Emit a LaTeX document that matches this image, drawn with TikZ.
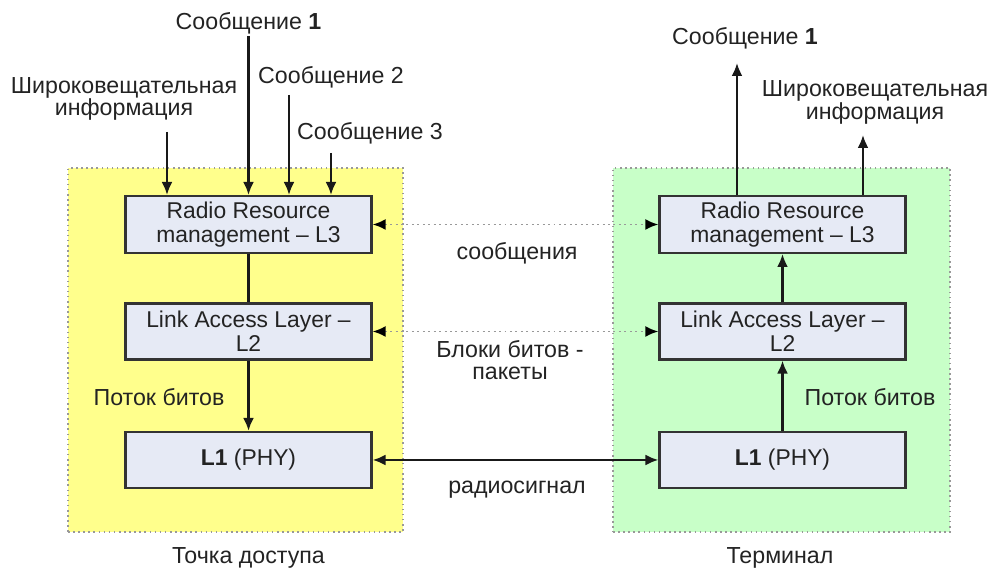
\documentclass[tikz,border=0pt]{standalone}
\usepackage{fontspec}
\setmainfont{Liberation Sans}
\usetikzlibrary{arrows.meta, positioning}
\usepackage{xcolor}
\definecolor{apfill}{RGB}{255,255,140}
\definecolor{termfill}{RGB}{200,255,200}
\definecolor{layerfill}{RGB}{230,234,245}
\definecolor{txt}{RGB}{35,35,35}

\begin{document}
\begin{tikzpicture}[
  area/.style={draw=black!40, dotted, line width=0.9pt, inner sep=0pt},
  layer/.style={draw=black!80, line width=1.3pt, fill=layerfill, minimum width=4.92cm,
    minimum height=1.12cm, align=center, text=txt, font=\fontsize{13}{13.5}\selectfont},
  lbl/.style={text=txt, align=center, inner sep=1pt, font=\fontsize{13.2}{12.8}\selectfont},
  flow/.style={-{Latex[length=2.6mm, width=2.2mm]}, line width=1.3pt, black!90},
  peer/.style={{Latex[length=2.6mm, width=2.2mm, black]}-{Latex[length=2.6mm, width=2.2mm, black]},
    dotted, line width=1.1pt, black!40},
  radio/.style={{Latex[length=2.6mm, width=2.2mm]}-{Latex[length=2.6mm, width=2.2mm]}, line width=1.3pt, black!90}
]
\useasboundingbox (0,0) rectangle (19.94,11.38);

\node[area, fill=apfill, minimum width=6.70cm, minimum height=7.28cm] (ap) at (4.71,4.38) {};
\node[area, fill=termfill, minimum width=6.74cm, minimum height=7.28cm] (term) at (15.63,4.38) {};

\node[layer] (rrmA) at (4.97,6.89) {Radio Resource\\management -- L3};
\node[layer] (lalA) at (4.97,4.75) {Link Access Layer --\\L2};
\node[layer] (phyA) at (4.97,2.18) {\textbf{L1} (PHY)};

\node[layer] (rrmB) at (15.65,6.89) {Radio Resource\\management -- L3};
\node[layer] (lalB) at (15.65,4.75) {Link Access Layer --\\L2};
\node[layer] (phyB) at (15.65,2.18) {\textbf{L1} (PHY)};

\node[lbl] (msgA1) at (4.97,10.92) {Сообщение \textbf{1}};
\node[lbl] (bcA) at (2.48,9.40) {Широковещательная\\информация};
\node[lbl] (msgA2) at (6.62,9.84) {Сообщение 2};
\node[lbl] (msgA3) at (7.40,8.72) {Сообщение 3};
\coordinate (inBc) at (3.34,8.74);
\coordinate (inM2) at (5.78,9.48);
\coordinate (inM3) at (6.62,8.32);

\node[lbl] (msgB1) at (14.90,10.62) {Сообщение \textbf{1}};
\node[lbl] (bcB) at (17.50,9.33) {Широковещательная\\информация};
\coordinate (outM1) at (14.74,10.12);
\coordinate (outBc) at (17.26,8.68);

\draw[flow] (msgA1.south) -- (msgA1.south |- rrmA.north);
\draw[flow] (inBc) -- (inBc |- rrmA.north);
\draw[flow] (inM2) -- (inM2 |- rrmA.north);
\draw[flow] (inM3) -- (inM3 |- rrmA.north);
\draw[flow] (outM1 |- rrmB.north) -- (outM1);
\draw[flow] (outBc |- rrmB.north) -- (outBc);

\draw[line width=1.3pt, black!90] (rrmA) -- (lalA);
\draw[flow] (lalA) -- (phyA);
\draw[flow] (phyB) -- (lalB);
\draw[flow] (lalB) -- (rrmB);

\draw[peer] (rrmA) -- (rrmB);
\draw[peer] (lalA) -- (lalB);
\draw[radio] (phyA) -- (phyB);

\node[lbl] (peer3) at (10.34,6.32) {сообщения};
\node[lbl] (peer2) at (10.20,4.18) {Блоки битов -\\пакеты};
\node[lbl] (peer1) at (10.34,1.58) {радиосигнал};
\node[lbl] (bitsA) at (3.18,3.44) {Поток битов};
\node[lbl] (bitsB) at (17.40,3.44) {Поток битов};

\node[lbl] (apName) at (4.97,0.22) {Точка доступа};
\node[lbl] (termName) at (15.60,0.22) {Терминал};
\end{tikzpicture}
\end{document}
